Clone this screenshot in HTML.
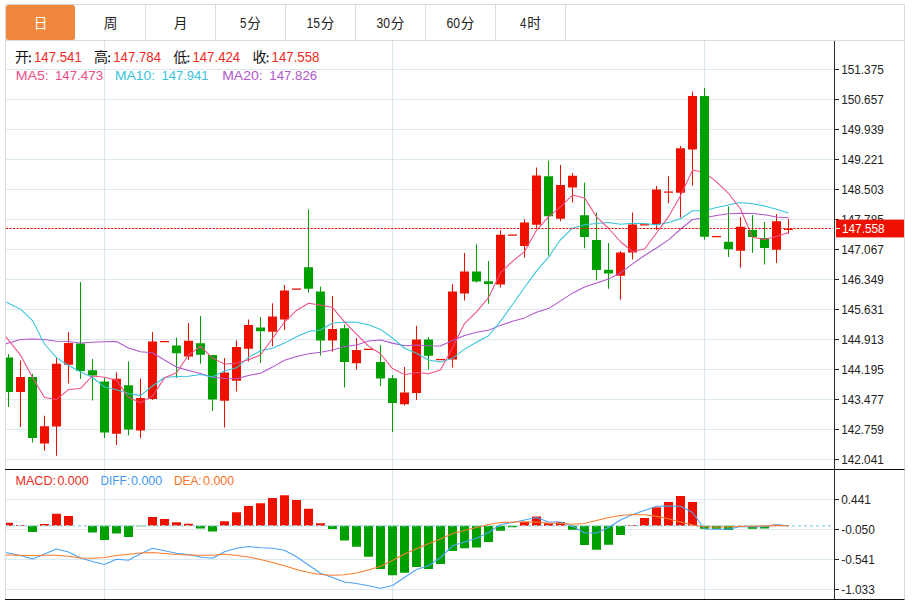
<!DOCTYPE html><html><head><meta charset="utf-8"><title>chart</title><style>html,body{margin:0;padding:0;background:#fff}svg{display:block}</style></head><body><svg width="912" height="601" viewBox="0 0 912 601" font-family="'Liberation Sans', sans-serif">
<rect width="912" height="601" fill="#fff"/>
<path d="M5.5 599 V4.5 H904.5 V599" fill="none" stroke="#d9d9d9" stroke-width="1"/>
<path d="M5.5 40.5 H904.5" stroke="#dcdcdc" stroke-width="1"/>
<rect x="6" y="5" width="69" height="35" rx="2.5" fill="#f0873d"/>
<path d="M145.5 5 V40" stroke="#dcdcdc" stroke-width="1"/>
<path d="M215.5 5 V40" stroke="#dcdcdc" stroke-width="1"/>
<path d="M285.5 5 V40" stroke="#dcdcdc" stroke-width="1"/>
<path d="M355.5 5 V40" stroke="#dcdcdc" stroke-width="1"/>
<path d="M425.5 5 V40" stroke="#dcdcdc" stroke-width="1"/>
<path d="M495.5 5 V40" stroke="#dcdcdc" stroke-width="1"/>
<path d="M565.5 5 V40" stroke="#dcdcdc" stroke-width="1"/>
<text x="33.65" y="27.9" font-size="13.7" fill="#fff" text-anchor="start" font-family="'Liberation Sans', 'Noto Sans CJK SC', sans-serif">日</text>
<text x="103.65" y="27.9" font-size="13.7" fill="#222" text-anchor="start" font-family="'Liberation Sans', 'Noto Sans CJK SC', sans-serif">周</text>
<text x="173.65" y="27.9" font-size="13.7" fill="#222" text-anchor="start" font-family="'Liberation Sans', 'Noto Sans CJK SC', sans-serif">月</text>
<text x="240.1" y="28" font-size="14" fill="#222" text-anchor="start" textLength="6.4" lengthAdjust="spacingAndGlyphs">5</text>
<text x="247.2" y="27.9" font-size="13.7" fill="#222" text-anchor="start" font-family="'Liberation Sans', 'Noto Sans CJK SC', sans-serif">分</text>
<text x="306.55" y="28" font-size="14" fill="#222" text-anchor="start" textLength="13.5" lengthAdjust="spacingAndGlyphs">15</text>
<text x="320.75" y="27.9" font-size="13.7" fill="#222" text-anchor="start" font-family="'Liberation Sans', 'Noto Sans CJK SC', sans-serif">分</text>
<text x="376.55" y="28" font-size="14" fill="#222" text-anchor="start" textLength="13.5" lengthAdjust="spacingAndGlyphs">30</text>
<text x="390.75" y="27.9" font-size="13.7" fill="#222" text-anchor="start" font-family="'Liberation Sans', 'Noto Sans CJK SC', sans-serif">分</text>
<text x="446.55" y="28" font-size="14" fill="#222" text-anchor="start" textLength="13.5" lengthAdjust="spacingAndGlyphs">60</text>
<text x="460.75" y="27.9" font-size="13.7" fill="#222" text-anchor="start" font-family="'Liberation Sans', 'Noto Sans CJK SC', sans-serif">分</text>
<text x="520.1" y="28" font-size="14" fill="#222" text-anchor="start" textLength="6.4" lengthAdjust="spacingAndGlyphs">4</text>
<text x="527.2" y="27.9" font-size="13.7" fill="#222" text-anchor="start" font-family="'Liberation Sans', 'Noto Sans CJK SC', sans-serif">时</text>
<defs><clipPath id="c1"><rect x="6" y="41" width="828" height="428"/></clipPath><clipPath id="c2"><rect x="6" y="470" width="828" height="129"/></clipPath></defs>
<path d="M6 69.5 H834" stroke="#dde9f1" stroke-width="1"/>
<path d="M6 99.5 H834" stroke="#dde9f1" stroke-width="1"/>
<path d="M6 129.5 H834" stroke="#dde9f1" stroke-width="1"/>
<path d="M6 159.5 H834" stroke="#dde9f1" stroke-width="1"/>
<path d="M6 189.5 H834" stroke="#dde9f1" stroke-width="1"/>
<path d="M6 219.5 H834" stroke="#dde9f1" stroke-width="1"/>
<path d="M6 249.5 H834" stroke="#dde9f1" stroke-width="1"/>
<path d="M6 279.5 H834" stroke="#dde9f1" stroke-width="1"/>
<path d="M6 309.5 H834" stroke="#dde9f1" stroke-width="1"/>
<path d="M6 339.5 H834" stroke="#dde9f1" stroke-width="1"/>
<path d="M6 369.5 H834" stroke="#dde9f1" stroke-width="1"/>
<path d="M6 399.5 H834" stroke="#dde9f1" stroke-width="1"/>
<path d="M6 429.5 H834" stroke="#dde9f1" stroke-width="1"/>
<path d="M6 459.5 H834" stroke="#dde9f1" stroke-width="1"/>
<path d="M6 499.5 H834" stroke="#dde9f1" stroke-width="1"/>
<path d="M6 529.5 H834" stroke="#dde9f1" stroke-width="1"/>
<path d="M6 559.5 H834" stroke="#dde9f1" stroke-width="1"/>
<path d="M6 589.5 H834" stroke="#dde9f1" stroke-width="1"/>
<path d="M104.5 41 V599" stroke="#dde9f1" stroke-width="1"/>
<path d="M392.5 41 V599" stroke="#dde9f1" stroke-width="1"/>
<path d="M704.5 41 V599" stroke="#dde9f1" stroke-width="1"/>
<g clip-path="url(#c1)">
<path d="M8.5 354 V407" stroke="#00a000" stroke-width="1"/>
<rect x="4.0" y="357.5" width="9" height="34.50" fill="#00a000"/>
<path d="M20.5 360.5 V427" stroke="#ee1100" stroke-width="1"/>
<rect x="16.0" y="377" width="9" height="15.00" fill="#ee1100"/>
<path d="M32.5 373.75 V442.5" stroke="#00a000" stroke-width="1"/>
<rect x="28.0" y="377" width="9" height="61.00" fill="#00a000"/>
<path d="M44.5 415.75 V450.75" stroke="#ee1100" stroke-width="1"/>
<rect x="40.0" y="426.25" width="9" height="17.25" fill="#ee1100"/>
<path d="M56.5 358 V455.75" stroke="#ee1100" stroke-width="1"/>
<rect x="52.0" y="363.75" width="9" height="62.75" fill="#ee1100"/>
<path d="M68.5 332 V383.5" stroke="#ee1100" stroke-width="1"/>
<rect x="64.0" y="343" width="9" height="21.75" fill="#ee1100"/>
<path d="M80.5 282 V379" stroke="#00a000" stroke-width="1"/>
<rect x="76.0" y="343.5" width="9" height="27.50" fill="#00a000"/>
<path d="M92.5 359 V400.5" stroke="#00a000" stroke-width="1"/>
<rect x="88.0" y="370.25" width="9" height="5.25" fill="#00a000"/>
<path d="M104.5 377.5 V438" stroke="#00a000" stroke-width="1"/>
<rect x="100.0" y="381.5" width="9" height="51.00" fill="#00a000"/>
<path d="M116.5 372.5 V445" stroke="#ee1100" stroke-width="1"/>
<rect x="112.0" y="378.75" width="9" height="55.00" fill="#ee1100"/>
<path d="M128.5 361.25 V435.25" stroke="#00a000" stroke-width="1"/>
<rect x="124.0" y="385.25" width="9" height="44.25" fill="#00a000"/>
<path d="M140.5 378.5 V438.25" stroke="#ee1100" stroke-width="1"/>
<rect x="136.0" y="398" width="9" height="32.50" fill="#ee1100"/>
<path d="M152.5 332 V400" stroke="#ee1100" stroke-width="1"/>
<rect x="148.0" y="341.5" width="9" height="57.50" fill="#ee1100"/>
<path d="M160.0 341.6 H169.0" stroke="#ee1100" stroke-width="1.3"/>
<path d="M176.5 337.5 V378" stroke="#00a000" stroke-width="1"/>
<rect x="172.0" y="345.5" width="9" height="7.75" fill="#00a000"/>
<path d="M188.5 323 V360" stroke="#ee1100" stroke-width="1"/>
<rect x="184.0" y="340.75" width="9" height="15.75" fill="#ee1100"/>
<path d="M200.5 316 V363.75" stroke="#00a000" stroke-width="1"/>
<rect x="196.0" y="343.25" width="9" height="11.50" fill="#00a000"/>
<path d="M212.5 355 V411" stroke="#00a000" stroke-width="1"/>
<rect x="208.0" y="355" width="9" height="44.50" fill="#00a000"/>
<path d="M224.5 358 V427.5" stroke="#ee1100" stroke-width="1"/>
<rect x="220.0" y="372.5" width="9" height="28.25" fill="#ee1100"/>
<path d="M236.5 340.5 V391.5" stroke="#ee1100" stroke-width="1"/>
<rect x="232.0" y="347" width="9" height="33.75" fill="#ee1100"/>
<path d="M248.5 319.5 V361.5" stroke="#ee1100" stroke-width="1"/>
<rect x="244.0" y="325" width="9" height="23.75" fill="#ee1100"/>
<path d="M260.5 317 V363" stroke="#00a000" stroke-width="1"/>
<rect x="256.0" y="327.5" width="9" height="3.75" fill="#00a000"/>
<path d="M272.5 303.25 V346.25" stroke="#ee1100" stroke-width="1"/>
<rect x="268.0" y="316.5" width="9" height="15.25" fill="#ee1100"/>
<path d="M284.5 285 V330" stroke="#ee1100" stroke-width="1"/>
<rect x="280.0" y="290.5" width="9" height="29.00" fill="#ee1100"/>
<path d="M292.0 289.1 H301.0" stroke="#ee1100" stroke-width="1.3"/>
<path d="M308.5 209.5 V292.75" stroke="#00a000" stroke-width="1"/>
<rect x="304.0" y="267.25" width="9" height="21.50" fill="#00a000"/>
<path d="M320.5 286.5 V355.5" stroke="#00a000" stroke-width="1"/>
<rect x="316.0" y="291.5" width="9" height="49.00" fill="#00a000"/>
<path d="M332.5 296 V351.75" stroke="#ee1100" stroke-width="1"/>
<rect x="328.0" y="329" width="9" height="11.50" fill="#ee1100"/>
<path d="M344.5 324.5 V387.5" stroke="#00a000" stroke-width="1"/>
<rect x="340.0" y="328.25" width="9" height="33.75" fill="#00a000"/>
<path d="M356.5 338 V369.5" stroke="#ee1100" stroke-width="1"/>
<rect x="352.0" y="350" width="9" height="13.25" fill="#ee1100"/>
<path d="M364.0 349.35 H373.0" stroke="#ee1100" stroke-width="1.3"/>
<path d="M380.5 345.25 V386.25" stroke="#00a000" stroke-width="1"/>
<rect x="376.0" y="362" width="9" height="16.50" fill="#00a000"/>
<path d="M392.5 375 V432" stroke="#00a000" stroke-width="1"/>
<rect x="388.0" y="378.25" width="9" height="24.75" fill="#00a000"/>
<path d="M404.5 367 V405.5" stroke="#ee1100" stroke-width="1"/>
<rect x="400.0" y="392.5" width="9" height="11.75" fill="#ee1100"/>
<path d="M416.5 325.75 V400" stroke="#ee1100" stroke-width="1"/>
<rect x="412.0" y="339.5" width="9" height="53.50" fill="#ee1100"/>
<path d="M428.5 337 V369.5" stroke="#00a000" stroke-width="1"/>
<rect x="424.0" y="339.5" width="9" height="16.25" fill="#00a000"/>
<path d="M436.0 359.6 H445.0" stroke="#ee1100" stroke-width="1.3"/>
<path d="M452.5 284 V367.5" stroke="#ee1100" stroke-width="1"/>
<rect x="448.0" y="291.5" width="9" height="68.00" fill="#ee1100"/>
<path d="M464.5 253 V300.5" stroke="#ee1100" stroke-width="1"/>
<rect x="460.0" y="271.5" width="9" height="22.00" fill="#ee1100"/>
<path d="M476.5 244.25 V282.5" stroke="#00a000" stroke-width="1"/>
<rect x="472.0" y="271.5" width="9" height="10.00" fill="#00a000"/>
<path d="M488.5 261 V303.75" stroke="#00a000" stroke-width="1"/>
<rect x="484.0" y="281.25" width="9" height="2.75" fill="#00a000"/>
<path d="M500.5 230.25 V287.5" stroke="#ee1100" stroke-width="1"/>
<rect x="496.0" y="234.75" width="9" height="49.75" fill="#ee1100"/>
<path d="M508.0 235.1 H517.0" stroke="#ee1100" stroke-width="1.3"/>
<path d="M524.5 219.25 V257.5" stroke="#ee1100" stroke-width="1"/>
<rect x="520.0" y="222.5" width="9" height="23.50" fill="#ee1100"/>
<path d="M536.5 167.5 V228.75" stroke="#ee1100" stroke-width="1"/>
<rect x="532.0" y="175.5" width="9" height="49.25" fill="#ee1100"/>
<path d="M548.5 160.75 V255.5" stroke="#00a000" stroke-width="1"/>
<rect x="544.0" y="176.25" width="9" height="40.00" fill="#00a000"/>
<path d="M560.5 165 V221.25" stroke="#ee1100" stroke-width="1"/>
<rect x="556.0" y="185" width="9" height="33.75" fill="#ee1100"/>
<path d="M572.5 173 V202.5" stroke="#ee1100" stroke-width="1"/>
<rect x="568.0" y="175.75" width="9" height="11.75" fill="#ee1100"/>
<path d="M584.5 182.5 V248.25" stroke="#00a000" stroke-width="1"/>
<rect x="580.0" y="215.25" width="9" height="21.75" fill="#00a000"/>
<path d="M596.5 212.5 V280.5" stroke="#00a000" stroke-width="1"/>
<rect x="592.0" y="240" width="9" height="30.00" fill="#00a000"/>
<path d="M608.5 243 V288.75" stroke="#00a000" stroke-width="1"/>
<rect x="604.0" y="269.75" width="9" height="3.75" fill="#00a000"/>
<path d="M620.5 251 V299.5" stroke="#ee1100" stroke-width="1"/>
<rect x="616.0" y="252.5" width="9" height="23.25" fill="#ee1100"/>
<path d="M632.5 212.5 V259.5" stroke="#ee1100" stroke-width="1"/>
<rect x="628.0" y="224.5" width="9" height="28.00" fill="#ee1100"/>
<path d="M640.0 224.85 H649.0" stroke="#ee1100" stroke-width="1.3"/>
<path d="M656.5 186 V230" stroke="#ee1100" stroke-width="1"/>
<rect x="652.0" y="189.5" width="9" height="34.50" fill="#ee1100"/>
<path d="M668.5 176.25 V203.25" stroke="#ee1100" stroke-width="1"/>
<path d="M664.0 192.1 H673.0" stroke="#ee1100" stroke-width="1.3"/>
<path d="M680.5 146 V217.5" stroke="#ee1100" stroke-width="1"/>
<rect x="676.0" y="148.25" width="9" height="44.50" fill="#ee1100"/>
<path d="M692.5 91.5 V185.5" stroke="#ee1100" stroke-width="1"/>
<rect x="688.0" y="96" width="9" height="53.50" fill="#ee1100"/>
<path d="M704.5 88 V239.5" stroke="#00a000" stroke-width="1"/>
<rect x="700.0" y="96.25" width="9" height="140.25" fill="#00a000"/>
<path d="M712.0 236.6 H721.0" stroke="#ee1100" stroke-width="1.3"/>
<path d="M728.5 206.5 V257" stroke="#00a000" stroke-width="1"/>
<rect x="724.0" y="241.75" width="9" height="7.50" fill="#00a000"/>
<path d="M740.5 217 V267.5" stroke="#ee1100" stroke-width="1"/>
<rect x="736.0" y="226.75" width="9" height="24.00" fill="#ee1100"/>
<path d="M752.5 215 V252.75" stroke="#00a000" stroke-width="1"/>
<rect x="748.0" y="230" width="9" height="7.00" fill="#00a000"/>
<path d="M764.5 222 V264.5" stroke="#00a000" stroke-width="1"/>
<rect x="760.0" y="238" width="9" height="10.00" fill="#00a000"/>
<path d="M776.5 214 V263" stroke="#ee1100" stroke-width="1"/>
<rect x="772.0" y="221.25" width="9" height="28.50" fill="#ee1100"/>
<path d="M788.5 219 V233.75" stroke="#ee1100" stroke-width="1"/>
<path d="M784.0 229.35 H793.0" stroke="#ee1100" stroke-width="1.3"/>
<polyline points="5.50,344.00 8.50,343.00 20.50,339.50 32.50,339.00 44.50,339.50 56.50,341.25 68.50,341.50 80.50,343.00 92.50,342.25 104.50,341.75 116.50,341.50 128.50,348.00 140.50,351.75 152.50,352.80 164.50,360.00 176.50,367.00 188.50,370.60 200.50,373.50 212.50,377.20 224.50,378.60 236.50,378.80 248.50,375.45 260.50,373.16 272.50,367.09 284.50,360.30 296.50,356.56 308.50,353.85 320.50,352.32 332.50,350.00 344.50,346.48 356.50,345.04 368.50,341.02 380.50,340.05 392.50,343.12 404.50,345.68 416.50,344.99 428.50,345.74 440.50,345.98 452.50,340.57 464.50,335.52 476.50,332.25 488.50,330.20 500.50,325.38 512.50,321.30 524.50,317.90 536.50,312.23 548.50,308.60 560.50,300.82 572.50,293.16 584.50,286.91 596.50,282.91 608.50,279.12 620.50,272.82 632.50,263.90 644.50,255.51 656.50,248.01 668.50,239.82 680.50,229.26 692.50,219.49 704.50,217.74 716.50,215.49 728.50,213.75 740.50,213.35 752.50,213.45 764.50,214.72 776.50,217.01 788.50,217.66" fill="none" stroke="#b057cc" stroke-width="1.05" stroke-linejoin="round"/>
<polyline points="5.50,301.80 8.50,303.20 20.50,309.10 32.50,320.60 44.50,344.00 56.50,357.60 68.50,365.50 80.50,371.75 92.50,377.50 104.50,387.00 116.50,389.77 128.50,393.52 140.50,395.62 152.50,385.98 164.50,377.50 176.50,376.45 188.50,376.23 200.50,374.60 212.50,377.00 224.50,371.00 236.50,367.82 248.50,357.38 260.50,350.70 272.50,348.20 284.50,343.10 296.50,336.68 308.50,331.48 320.50,330.05 332.50,323.00 344.50,321.95 356.50,322.25 368.50,324.68 380.50,329.40 392.50,338.05 404.50,348.25 416.50,353.30 428.50,360.00 440.50,361.90 452.50,358.15 464.50,349.10 476.50,342.25 488.50,335.73 500.50,321.35 512.50,304.55 524.50,287.55 536.50,271.15 548.50,257.20 560.50,239.75 572.50,228.18 584.50,224.72 596.50,223.57 608.50,222.53 620.50,224.30 632.50,223.25 644.50,223.47 656.50,224.88 668.50,222.45 680.50,218.78 692.50,210.80 704.50,210.75 716.50,207.40 728.50,204.97 740.50,202.40 752.50,203.65 764.50,205.97 776.50,209.15 788.50,212.88" fill="none" stroke="#36c3dc" stroke-width="1.05" stroke-linejoin="round"/>
<polyline points="5.50,336.30 8.50,340.10 20.50,355.10 32.50,377.50 44.50,397.50 56.50,399.40 68.50,389.60 80.50,388.40 92.50,375.90 104.50,377.15 116.50,380.15 128.50,397.45 140.50,402.85 152.50,396.05 164.50,377.85 176.50,372.75 188.50,355.00 200.50,346.35 212.50,357.95 224.50,364.15 236.50,362.90 248.50,359.75 260.50,355.05 272.50,338.45 284.50,322.05 296.50,310.45 308.50,303.20 320.50,305.05 332.50,307.55 344.50,321.85 356.50,334.05 368.50,346.15 380.50,353.75 392.50,368.55 404.50,374.65 416.50,372.55 428.50,373.85 440.50,370.05 452.50,347.75 464.50,323.55 476.50,311.95 488.50,297.60 500.50,272.65 512.50,261.35 524.50,251.55 536.50,230.35 548.50,216.80 560.50,206.85 572.50,195.00 584.50,197.90 596.50,216.80 608.50,228.25 620.50,241.75 632.50,251.50 644.50,249.05 656.50,232.95 668.50,216.65 680.50,195.80 692.50,170.10 704.50,172.45 716.50,181.85 728.50,193.30 740.50,209.00 752.50,237.20 764.50,239.50 776.50,236.45 788.50,232.45" fill="none" stroke="#ef4d86" stroke-width="1.05" stroke-linejoin="round"/>
</g>
<path d="M6 228.5 H832.5" stroke="#ee1100" stroke-width="1" stroke-dasharray="2.2 1.3"/>
<path d="M704.5 88 V239.5" stroke="#00a000" stroke-width="1"/><rect x="700.0" y="96.25" width="9" height="140.25" fill="#00a000"/>
<g clip-path="url(#c2)">
<rect x="4.0" y="522.75" width="9" height="3.00" fill="#ee1100"/>
<rect x="16.0" y="525" width="9" height="0.75" fill="#ee1100"/>
<rect x="28.0" y="525.75" width="9" height="6.25" fill="#00a000"/>
<rect x="40.0" y="524" width="9" height="1.75" fill="#ee1100"/>
<rect x="52.0" y="513.75" width="9" height="12.00" fill="#ee1100"/>
<rect x="64.0" y="516" width="9" height="9.75" fill="#ee1100"/>
<rect x="88.0" y="525.75" width="9" height="6.75" fill="#00a000"/>
<rect x="100.0" y="525.75" width="9" height="14.25" fill="#00a000"/>
<rect x="112.0" y="525.75" width="9" height="7.75" fill="#00a000"/>
<rect x="124.0" y="525.75" width="9" height="11.25" fill="#00a000"/>
<rect x="136.0" y="525.75" width="9" height="0.55" fill="#00a000"/>
<rect x="148.0" y="517" width="9" height="8.75" fill="#ee1100"/>
<rect x="160.0" y="519" width="9" height="6.75" fill="#ee1100"/>
<rect x="172.0" y="522.25" width="9" height="3.50" fill="#ee1100"/>
<rect x="184.0" y="523.75" width="9" height="2.00" fill="#ee1100"/>
<rect x="196.0" y="525.75" width="9" height="2.75" fill="#00a000"/>
<rect x="208.0" y="525.75" width="9" height="5.75" fill="#00a000"/>
<rect x="220.0" y="521.25" width="9" height="4.50" fill="#ee1100"/>
<rect x="232.0" y="512.25" width="9" height="13.50" fill="#ee1100"/>
<rect x="244.0" y="506" width="9" height="19.75" fill="#ee1100"/>
<rect x="256.0" y="503.25" width="9" height="22.50" fill="#ee1100"/>
<rect x="268.0" y="498" width="9" height="27.75" fill="#ee1100"/>
<rect x="280.0" y="495.25" width="9" height="30.50" fill="#ee1100"/>
<rect x="292.0" y="500" width="9" height="25.75" fill="#ee1100"/>
<rect x="304.0" y="508.75" width="9" height="17.00" fill="#ee1100"/>
<rect x="316.0" y="523.25" width="9" height="2.50" fill="#ee1100"/>
<rect x="328.0" y="525.75" width="9" height="3.25" fill="#00a000"/>
<rect x="340.0" y="525.75" width="9" height="14.75" fill="#00a000"/>
<rect x="352.0" y="525.75" width="9" height="21.00" fill="#00a000"/>
<rect x="364.0" y="525.75" width="9" height="31.00" fill="#00a000"/>
<rect x="376.0" y="525.75" width="9" height="43.25" fill="#00a000"/>
<rect x="388.0" y="525.75" width="9" height="49.50" fill="#00a000"/>
<rect x="400.0" y="525.75" width="9" height="47.00" fill="#00a000"/>
<rect x="412.0" y="525.75" width="9" height="41.25" fill="#00a000"/>
<rect x="424.0" y="525.75" width="9" height="43.25" fill="#00a000"/>
<rect x="436.0" y="525.75" width="9" height="38.25" fill="#00a000"/>
<rect x="448.0" y="525.75" width="9" height="25.25" fill="#00a000"/>
<rect x="460.0" y="525.75" width="9" height="22.50" fill="#00a000"/>
<rect x="472.0" y="525.75" width="9" height="21.75" fill="#00a000"/>
<rect x="484.0" y="525.75" width="9" height="16.25" fill="#00a000"/>
<rect x="496.0" y="525.75" width="9" height="5.00" fill="#00a000"/>
<rect x="508.0" y="525.75" width="9" height="1.50" fill="#00a000"/>
<rect x="520.0" y="522" width="9" height="3.75" fill="#ee1100"/>
<rect x="532.0" y="516.5" width="9" height="9.25" fill="#ee1100"/>
<rect x="544.0" y="523.25" width="9" height="2.50" fill="#ee1100"/>
<rect x="556.0" y="522" width="9" height="3.75" fill="#ee1100"/>
<rect x="568.0" y="525.75" width="9" height="4.00" fill="#00a000"/>
<rect x="580.0" y="525.75" width="9" height="19.25" fill="#00a000"/>
<rect x="592.0" y="525.75" width="9" height="24.00" fill="#00a000"/>
<rect x="604.0" y="525.75" width="9" height="19.00" fill="#00a000"/>
<rect x="616.0" y="525.75" width="9" height="9.25" fill="#00a000"/>
<rect x="628.0" y="525" width="9" height="0.75" fill="#ee1100"/>
<rect x="640.0" y="518" width="9" height="7.75" fill="#ee1100"/>
<rect x="652.0" y="507.3" width="9" height="18.45" fill="#ee1100"/>
<rect x="664.0" y="502" width="9" height="23.75" fill="#ee1100"/>
<rect x="676.0" y="496" width="9" height="29.75" fill="#ee1100"/>
<rect x="688.0" y="502" width="9" height="23.75" fill="#ee1100"/>
<rect x="700.0" y="525.75" width="9" height="3.05" fill="#00a000"/>
<rect x="712.0" y="525.75" width="9" height="3.05" fill="#00a000"/>
<rect x="724.0" y="525.75" width="9" height="4.25" fill="#00a000"/>
<rect x="748.0" y="525.75" width="9" height="3.05" fill="#00a000"/>
<rect x="760.0" y="525.75" width="9" height="2.75" fill="#00a000"/>
<rect x="772.0" y="524.7" width="9" height="1.05" fill="#ee1100"/>
<path d="M6 525.75 H831" stroke="#a2d9ef" stroke-width="1.6" stroke-dasharray="3 3"/>
<polyline points="5.50,552.40 8.50,553.00 20.50,555.50 32.50,559.00 44.50,554.00 56.50,549.00 68.50,552.00 80.50,558.00 92.50,561.50 104.50,564.50 116.50,559.25 128.50,560.25 140.50,553.75 152.50,548.25 164.50,550.75 176.50,553.25 188.50,554.50 200.50,557.00 212.50,558.25 224.50,551.75 236.50,548.25 248.50,546.50 260.50,547.75 272.50,548.25 284.50,550.25 296.50,556.75 308.50,565.00 320.50,573.25 332.50,577.50 344.50,582.00 356.50,583.50 368.50,585.75 380.50,588.25 392.50,585.50 404.50,577.50 416.50,569.50 428.50,565.75 440.50,557.50 452.50,545.75 464.50,542.00 476.50,538.25 488.50,532.50 500.50,524.50 512.50,522.50 524.50,520.00 536.50,517.50 548.50,522.00 560.50,522.00 572.50,526.00 584.50,533.00 596.50,533.00 608.50,527.50 620.50,520.00 632.50,514.50 644.50,510.50 656.50,506.25 668.50,506.00 680.50,506.25 692.50,512.50 704.50,529.00 716.50,529.20 728.50,529.25 740.50,526.50 752.50,526.90 764.50,526.60 776.50,524.80 788.50,525.90" fill="none" stroke="#4da3f5" stroke-width="1.1" stroke-linejoin="round"/>
<polyline points="5.50,555.00 8.50,555.00 20.50,555.25 32.50,555.50 44.50,555.25 56.50,555.25 68.50,556.25 80.50,558.00 92.50,558.25 104.50,557.50 116.50,555.50 128.50,554.25 140.50,553.00 152.50,552.50 164.50,553.50 176.50,554.50 188.50,555.00 200.50,555.25 212.50,555.25 224.50,554.25 236.50,555.50 248.50,557.00 260.50,559.50 272.50,562.50 284.50,565.75 296.50,569.50 308.50,572.50 320.50,574.50 332.50,575.25 344.50,574.75 356.50,573.00 368.50,570.00 380.50,566.25 392.50,560.50 404.50,554.00 416.50,548.75 428.50,543.75 440.50,539.00 452.50,533.50 464.50,530.50 476.50,527.50 488.50,524.50 500.50,522.50 512.50,522.00 524.50,521.75 536.50,522.00 548.50,523.00 560.50,523.50 572.50,524.25 584.50,523.50 596.50,520.50 608.50,517.50 620.50,515.50 632.50,514.50 644.50,514.75 656.50,516.40 668.50,518.75 680.50,522.00 692.50,525.00 704.50,526.75 716.50,527.00 728.50,527.00 740.50,526.25 752.50,526.25 764.50,526.00 776.50,525.50 788.50,525.75" fill="none" stroke="#fa7d2c" stroke-width="1.1" stroke-linejoin="round"/>
</g>
<path d="M834.5 41 V599.5" stroke="#2a2a2a" stroke-width="1"/>
<path d="M5 469.5 H904.5" stroke="#111" stroke-width="1"/>
<path d="M5 599.5 H904.5" stroke="#111" stroke-width="1"/>
<path d="M835 69.5 H839" stroke="#222" stroke-width="1"/>
<text x="841.2" y="73.5" font-size="12.6" fill="#222" text-anchor="start" textLength="42.6" lengthAdjust="spacingAndGlyphs">151.375</text>
<path d="M835 99.5 H839" stroke="#222" stroke-width="1"/>
<text x="841.2" y="103.5" font-size="12.6" fill="#222" text-anchor="start" textLength="42.6" lengthAdjust="spacingAndGlyphs">150.657</text>
<path d="M835 129.5 H839" stroke="#222" stroke-width="1"/>
<text x="841.2" y="133.5" font-size="12.6" fill="#222" text-anchor="start" textLength="42.6" lengthAdjust="spacingAndGlyphs">149.939</text>
<path d="M835 159.5 H839" stroke="#222" stroke-width="1"/>
<text x="841.2" y="163.5" font-size="12.6" fill="#222" text-anchor="start" textLength="42.6" lengthAdjust="spacingAndGlyphs">149.221</text>
<path d="M835 189.5 H839" stroke="#222" stroke-width="1"/>
<text x="841.2" y="193.5" font-size="12.6" fill="#222" text-anchor="start" textLength="42.6" lengthAdjust="spacingAndGlyphs">148.503</text>
<path d="M835 219.5 H839" stroke="#222" stroke-width="1"/>
<text x="841.2" y="223.5" font-size="12.6" fill="#222" text-anchor="start" textLength="42.6" lengthAdjust="spacingAndGlyphs">147.785</text>
<path d="M835 249.5 H839" stroke="#222" stroke-width="1"/>
<text x="841.2" y="253.5" font-size="12.6" fill="#222" text-anchor="start" textLength="42.6" lengthAdjust="spacingAndGlyphs">147.067</text>
<path d="M835 279.5 H839" stroke="#222" stroke-width="1"/>
<text x="841.2" y="283.5" font-size="12.6" fill="#222" text-anchor="start" textLength="42.6" lengthAdjust="spacingAndGlyphs">146.349</text>
<path d="M835 309.5 H839" stroke="#222" stroke-width="1"/>
<text x="841.2" y="313.5" font-size="12.6" fill="#222" text-anchor="start" textLength="42.6" lengthAdjust="spacingAndGlyphs">145.631</text>
<path d="M835 339.5 H839" stroke="#222" stroke-width="1"/>
<text x="841.2" y="343.5" font-size="12.6" fill="#222" text-anchor="start" textLength="42.6" lengthAdjust="spacingAndGlyphs">144.913</text>
<path d="M835 369.5 H839" stroke="#222" stroke-width="1"/>
<text x="841.2" y="373.5" font-size="12.6" fill="#222" text-anchor="start" textLength="42.6" lengthAdjust="spacingAndGlyphs">144.195</text>
<path d="M835 399.5 H839" stroke="#222" stroke-width="1"/>
<text x="841.2" y="403.5" font-size="12.6" fill="#222" text-anchor="start" textLength="42.6" lengthAdjust="spacingAndGlyphs">143.477</text>
<path d="M835 429.5 H839" stroke="#222" stroke-width="1"/>
<text x="841.2" y="433.5" font-size="12.6" fill="#222" text-anchor="start" textLength="42.6" lengthAdjust="spacingAndGlyphs">142.759</text>
<path d="M835 459.5 H839" stroke="#222" stroke-width="1"/>
<text x="841.2" y="463.5" font-size="12.6" fill="#222" text-anchor="start" textLength="42.6" lengthAdjust="spacingAndGlyphs">142.041</text>
<path d="M835 499.5 H839" stroke="#222" stroke-width="1"/>
<text x="841.2" y="503.5" font-size="12.6" fill="#222" text-anchor="start" textLength="29.6" lengthAdjust="spacingAndGlyphs">0.441</text>
<path d="M835 529.5 H839" stroke="#222" stroke-width="1"/>
<text x="841.2" y="533.5" font-size="12.6" fill="#222" text-anchor="start" textLength="33.6" lengthAdjust="spacingAndGlyphs">-0.050</text>
<path d="M835 559.5 H839" stroke="#222" stroke-width="1"/>
<text x="841.2" y="563.5" font-size="12.6" fill="#222" text-anchor="start" textLength="33.6" lengthAdjust="spacingAndGlyphs">-0.541</text>
<path d="M835 589.5 H839" stroke="#222" stroke-width="1"/>
<text x="841.2" y="593.5" font-size="12.6" fill="#222" text-anchor="start" textLength="33.6" lengthAdjust="spacingAndGlyphs">-1.033</text>
<rect x="836" y="219.6" width="68" height="17.8" fill="#ee1100"/>
<path d="M836 228.5 H840" stroke="#fff" stroke-width="1"/>
<text x="842" y="232.6" font-size="12.6" fill="#fff" text-anchor="start" textLength="42.6" lengthAdjust="spacingAndGlyphs">147.558</text>
<text x="14.9" y="61.95" font-size="14" fill="#111" text-anchor="start" font-family="'Liberation Sans', 'Noto Sans CJK SC', sans-serif">开</text>
<rect x="29.1" y="55.4" width="1.8" height="1.8" fill="#222"/><rect x="29.1" y="60.5" width="1.8" height="1.8" fill="#222"/>
<text x="34.0" y="62" font-size="14" fill="#f02a1c" text-anchor="start" textLength="47.8" lengthAdjust="spacingAndGlyphs">147.541</text>
<text x="94.1" y="61.95" font-size="14" fill="#111" text-anchor="start" font-family="'Liberation Sans', 'Noto Sans CJK SC', sans-serif">高</text>
<rect x="108.3" y="55.4" width="1.8" height="1.8" fill="#222"/><rect x="108.3" y="60.5" width="1.8" height="1.8" fill="#222"/>
<text x="113.2" y="62" font-size="14" fill="#f02a1c" text-anchor="start" textLength="47.8" lengthAdjust="spacingAndGlyphs">147.784</text>
<text x="173.3" y="61.95" font-size="14" fill="#111" text-anchor="start" font-family="'Liberation Sans', 'Noto Sans CJK SC', sans-serif">低</text>
<rect x="187.5" y="55.4" width="1.8" height="1.8" fill="#222"/><rect x="187.5" y="60.5" width="1.8" height="1.8" fill="#222"/>
<text x="192.4" y="62" font-size="14" fill="#f02a1c" text-anchor="start" textLength="47.8" lengthAdjust="spacingAndGlyphs">147.424</text>
<text x="252.5" y="61.95" font-size="14" fill="#111" text-anchor="start" font-family="'Liberation Sans', 'Noto Sans CJK SC', sans-serif">收</text>
<rect x="266.7" y="55.4" width="1.8" height="1.8" fill="#222"/><rect x="266.7" y="60.5" width="1.8" height="1.8" fill="#222"/>
<text x="271.6" y="62" font-size="14" fill="#f02a1c" text-anchor="start" textLength="47.8" lengthAdjust="spacingAndGlyphs">147.558</text>
<text x="15.7" y="80.0" font-size="13.2" fill="#ef4d86" text-anchor="start" textLength="33" lengthAdjust="spacingAndGlyphs">MA5:</text>
<text x="54.9" y="80.0" font-size="13.2" fill="#ef4d86" text-anchor="start" textLength="48.2" lengthAdjust="spacingAndGlyphs">147.473</text>
<text x="115" y="80.0" font-size="13.2" fill="#36c3dc" text-anchor="start" textLength="40.2" lengthAdjust="spacingAndGlyphs">MA10:</text>
<text x="161.6" y="80.0" font-size="13.2" fill="#36c3dc" text-anchor="start" textLength="46.8" lengthAdjust="spacingAndGlyphs">147.941</text>
<text x="222.2" y="80.0" font-size="13.2" fill="#b057cc" text-anchor="start" textLength="40.4" lengthAdjust="spacingAndGlyphs">MA20:</text>
<text x="269.3" y="80.0" font-size="13.2" fill="#b057cc" text-anchor="start" textLength="47.8" lengthAdjust="spacingAndGlyphs">147.826</text>
<text x="15.4" y="484.8" font-size="12.3" fill="#f02a20" text-anchor="start" textLength="40.6" lengthAdjust="spacingAndGlyphs">MACD:</text>
<text x="57.4" y="484.8" font-size="12.3" fill="#f02a20" text-anchor="start" textLength="31.2" lengthAdjust="spacingAndGlyphs">0.000</text>
<text x="100.4" y="484.8" font-size="12.3" fill="#3f99f2" text-anchor="start" textLength="29.6" lengthAdjust="spacingAndGlyphs">DIFF:</text>
<text x="131.0" y="484.8" font-size="12.3" fill="#3f99f2" text-anchor="start" textLength="31.2" lengthAdjust="spacingAndGlyphs">0.000</text>
<text x="174.1" y="484.8" font-size="12.3" fill="#f8731f" text-anchor="start" textLength="27.4" lengthAdjust="spacingAndGlyphs">DEA:</text>
<text x="203.0" y="484.8" font-size="12.3" fill="#f8731f" text-anchor="start" textLength="31.2" lengthAdjust="spacingAndGlyphs">0.000</text>
</svg></body></html>
